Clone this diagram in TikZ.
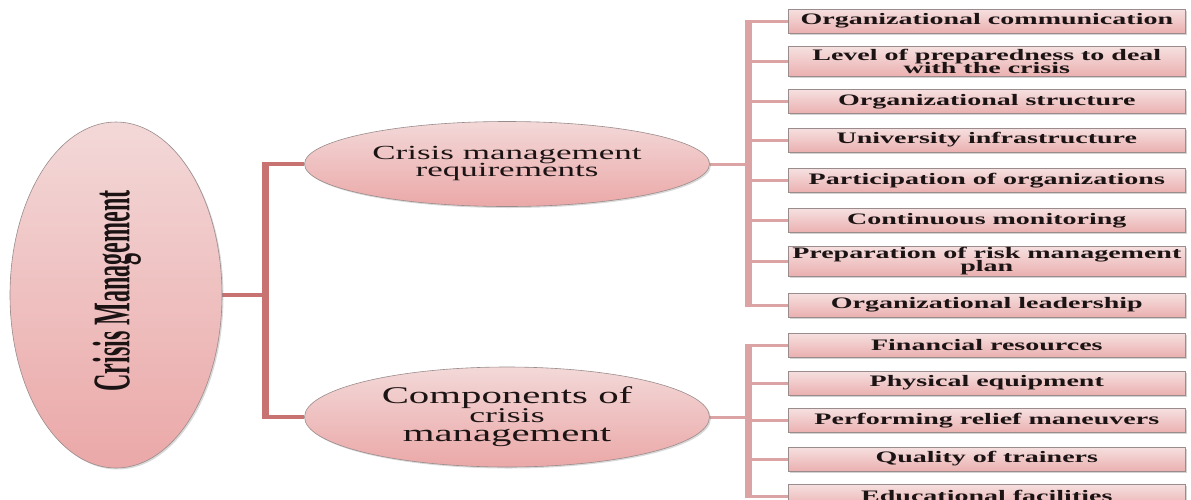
\documentclass[tikz,border=0pt]{standalone}
\usepackage{fontspec}
\setmainfont{Liberation Serif}
\usepackage{graphicx}
\usetikzlibrary{shapes.geometric,shadows,backgrounds}
\definecolor{lconn}{HTML}{C97272}
\definecolor{rconn}{HTML}{DBA3A3}
\definecolor{pinkA}{HTML}{F6E0E0}
\definecolor{pinkB}{HTML}{EBB0B0}
\definecolor{ovalA}{HTML}{F3D8D8}
\definecolor{ovalB}{HTML}{EBA8A8}
\definecolor{edgeg}{HTML}{9A8C8C}
\definecolor{inkc}{HTML}{1C1414}
\newcommand\stack[2]{\vbox{\baselineskip=#1\relax\lineskiplimit=-30pt\relax\halign{\hfil##\hfil\cr#2\crcr}}}
\newcommand\boxtext[1]{\scalebox{1.75}[1]{\fontsize{16}{13.5}\selectfont\bfseries\stack{13.5pt}{#1}}}
\tikzset{
  itembox/.style={draw=edgeg, line width=0.6pt, top color=pinkA, bottom color=pinkB,
    minimum width=397pt, minimum height=24pt, inner sep=0pt, anchor=west, text=inkc,
    drop shadow={shadow xshift=1.5pt,shadow yshift=-1.5pt,opacity=0.35}},
  tallbox/.style={itembox, minimum height=30pt},
  oval/.style={ellipse, draw=edgeg, line width=0.6pt, top color=ovalA, bottom color=ovalB,
    inner sep=0pt, text=inkc,
    drop shadow={shadow xshift=1.5pt,shadow yshift=-1.5pt,opacity=0.3}},
  lh/.style={draw=lconn, line width=4.5pt},
  lv/.style={draw=lconn, line width=7pt},
  rh/.style={draw=rconn, line width=3pt},
  rv/.style={draw=rconn, line width=7pt}
}
\begin{document}
\begin{tikzpicture}[x=1pt,y=-1pt]
\useasboundingbox (0,0) rectangle (1191,499);
\clip (0,0) rectangle (1191,499);

% main oval
\node[oval, minimum width=212pt, minimum height=346pt] (big) at (116,295) {};
\node[rotate=90, text=inkc] (bigtext) at (117,291)
  {\scalebox{0.83}[1.82]{\fontsize{29}{29}\selectfont\bfseries Crisis Management}};

% second level ovals
\node[oval, minimum width=405pt, minimum height=85pt] (e1) at (507,164)
  {\scalebox{1.75}[1]{\fontsize{20}{17}\selectfont\stack{17pt}{Crisis management\cr requirements}}};
\node[oval, minimum width=405pt, minimum height=100pt] (e2) at (507,417)
  {\scalebox{1.7}[1]{\fontsize{24}{19}\selectfont\stack{19pt}{Components of\cr {\fontsize{21}{19}\selectfont crisis}\cr management}}};

% first group of items
\node[itembox] (b1) at (788,21)    {\boxtext{Organizational communication}};
\node[tallbox] (b2) at (788,61.5)  {\boxtext{Level of preparedness to deal\cr with the crisis}};
\node[itembox] (b3) at (788,101.5) {\boxtext{Organizational structure}};
\node[itembox] (b4) at (788,140)   {\boxtext{University infrastructure}};
\node[itembox] (b5) at (788,180.5) {\boxtext{Participation of organizations}};
\node[itembox] (b6) at (788,220.5) {\boxtext{Continuous monitoring}};
\node[tallbox] (b7) at (788,261)   {\boxtext{Preparation of risk management\cr plan}};
\node[itembox] (b8) at (788,305)   {\boxtext{Organizational leadership}};

% second group of items
\node[itembox] (b9)  at (788,345)   {\boxtext{Financial resources}};
\node[itembox] (b10) at (788,383)   {\boxtext{Physical equipment}};
\node[itembox] (b11) at (788,420.5) {\boxtext{Performing relief maneuvers}};
\node[itembox] (b12) at (788,459)   {\boxtext{Quality of trainers}};
\node[itembox] (b13) at (788,496)   {\boxtext{Educational facilities}};

\coordinate (jL) at (265.5,295);
\coordinate (jR) at (748.5,0);

\begin{pgfonlayer}{background}
  \draw[lh] (big.east) -- (big.east -| jL);
  \draw[lv] ([yshift=2.25pt]e1.west -| jL) -- ([yshift=-2.25pt]e2.west -| jL);
  \draw[lh] (e1.west -| jL) -- (e1.west);
  \draw[lh] (e2.west -| jL) -- (e2.west);

  \draw[rh] (e1.east) -- (e1.east -| jR);
  \draw[rv] ([yshift=1.5pt]b1.west -| jR) -- ([yshift=-1.5pt]b8.west -| jR);
  \foreach \n in {1,...,8} \draw[rh] (b\n.west -| jR) -- (b\n.west);

  \draw[rh] (e2.east) -- (e2.east -| jR);
  \draw[rv] ([yshift=1.5pt]b9.west -| jR) -- ([yshift=-1.5pt]b13.west -| jR);
  \foreach \n in {9,...,13} \draw[rh] (b\n.west -| jR) -- (b\n.west);
\end{pgfonlayer}
\end{tikzpicture}
\end{document}
